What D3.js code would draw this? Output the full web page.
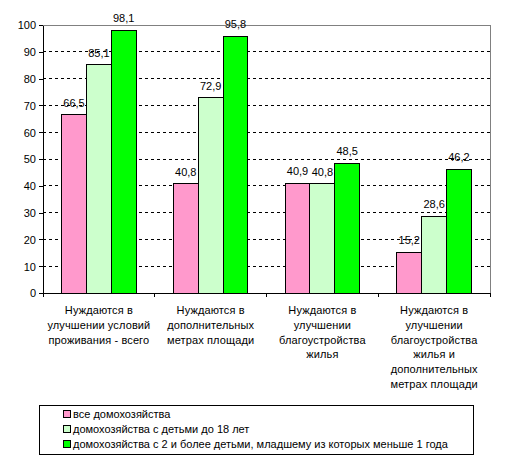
<!DOCTYPE html>
<meta charset="utf-8">
<style>
    body { margin: 0; background: #fff; }
    svg text { font-family: "Liberation Sans", Arial, sans-serif; font-size: 11px; fill: #000; }
    .axis path, .axis line { stroke: #000; shape-rendering: crispEdges; }
    .grid line { stroke: #000; stroke-dasharray: 3,3; shape-rendering: crispEdges; }
</style>
<svg width="505" height="463"></svg>
<script src="https://d3js.org/d3.v7.min.js"></script>
<script>
    var categories = [
        ["Нуждаются в", "улучшении условий", "проживания - всего"],
        ["Нуждаются в", "дополнительных", "метрах площади"],
        ["Нуждаются в", "улучшении", "благоустройства", "жилья"],
        ["Нуждаются в", "улучшении", "благоустройства", "жилья и", "дополнительных", "метрах площади"]
    ];
    var seriesNames = [
        "все домохозяйства",
        "домохозяйства с детьми до 18 лет",
        "домохозяйства с 2 и более детьми, младшему из которых меньше 1 года"
    ];
    var allHouseholds = [66.5, 40.8, 40.9, 15.2];
    var withChildren = [85.1, 72.9, 40.8, 28.6];
    var twoOrMore = [98.1, 95.8, 48.5, 46.2];
    var yTicks = [0, 10, 20, 30, 40, 50, 60, 70, 80, 90, 100];
    var colors = ["#FF99CC", "#CCFFCC", "#00FF00"];

    var series = [allHouseholds, withChildren, twoOrMore];

    var svg = d3.select("svg"),
        margin = {top: 25, right: 15, bottom: 170, left: 43},
        width = 490 - margin.left,
        height = 293 - margin.top;

    var g = svg.append("g")
        .attr("transform", "translate(" + margin.left + "," + margin.top + ")");

    var x = d3.scaleBand().domain(d3.range(categories.length)).range([0, width]);
    var xs = d3.scaleBand().domain(d3.range(series.length))
        .range([0, x.bandwidth()]).paddingInner(0).paddingOuter(0.75);
    var y = d3.scaleLinear().domain([0, 100]).range([height, 0]);

    // grid
    g.append("g").attr("class", "grid")
        .selectAll("line")
        .data(yTicks.filter(function(d) { return d > 0 && d < 100; }))
        .enter().append("line")
        .attr("x1", 0).attr("x2", width)
        .attr("y1", function(d) { return y(d); })
        .attr("y2", function(d) { return y(d); });

    // plot border top/right
    g.append("path")
        .attr("d", "M0," + y(100) + "H" + width + "V" + y(0))
        .attr("fill", "none").attr("stroke", "#808080")
        .attr("shape-rendering", "crispEdges");

    // bars
    var groups = g.selectAll(".grp")
        .data(categories)
        .enter().append("g")
        .attr("transform", function(d, i) { return "translate(" + x(i) + ",0)"; });

    groups.selectAll("rect")
        .data(function(d, i) { return series.map(function(s, j) { return {j: j, v: s[i]}; }); })
        .enter().append("rect")
        .attr("x", function(d) { return xs(d.j); })
        .attr("width", xs.bandwidth())
        .attr("y", function(d) { return y(d.v); })
        .attr("height", function(d) { return y(0) - y(d.v); })
        .attr("fill", function(d) { return colors[d.j]; })
        .attr("stroke", "#000")
        .attr("stroke-width", 1)
        .attr("shape-rendering", "crispEdges");

    groups.selectAll(".lbl")
        .data(function(d, i) { return series.map(function(s, j) { return {j: j, v: s[i]}; }); })
        .enter().append("text")
        .attr("class", "lbl")
        .attr("text-anchor", "middle")
        .attr("x", function(d) { return xs(d.j) + xs.bandwidth() / 2; })
        .attr("y", function(d) { return y(d.v) - 8; })
        .text(function(d) { return String(d.v).replace(".", ","); });

    // y axis
    g.append("g")
        .attr("class", "axis")
        .call(d3.axisLeft(y).tickValues(yTicks).tickSize(4).tickPadding(3).tickSizeOuter(0))
        .selectAll("text").attr("dy", "0.35em");

    // x axis
    var xAxis = g.append("g")
        .attr("class", "axis")
        .attr("transform", "translate(0," + height + ")");
    xAxis.append("path").attr("d", "M0,0H" + width);
    xAxis.selectAll("line")
        .data(d3.range(categories.length + 1))
        .enter().append("line")
        .attr("x1", function(d) { return d * x.step(); })
        .attr("x2", function(d) { return d * x.step(); })
        .attr("y1", 0).attr("y2", 4);

    xAxis.selectAll(".cat")
        .data(categories)
        .enter().append("text")
        .attr("class", "cat")
        .attr("text-anchor", "middle")
        .attr("letter-spacing", "0.12px")
        .attr("transform", function(d, i) { return "translate(" + (x(i) + x.bandwidth() / 2) + ",21)"; })
        .selectAll("tspan")
        .data(function(d) { return d; })
        .enter().append("tspan")
        .attr("x", 0)
        .attr("dy", function(d, i) { return i === 0 ? 0 : 14.8; })
        .text(function(d) { return d; });

    // legend
    var legend = svg.append("g").attr("transform", "translate(39,405)");
    legend.append("rect")
        .attr("x", 0.5).attr("y", 0.5).attr("width", 434).attr("height", 49)
        .attr("fill", "#fff").attr("stroke", "#000");
    var items = legend.selectAll(".item")
        .data(seriesNames)
        .enter().append("g")
        .attr("transform", function(d, i) { return "translate(24," + (9 + i * 15) + ")"; });
    items.append("rect")
        .attr("x", 0.5).attr("y", -3.5).attr("width", 7).attr("height", 7)
        .attr("fill", function(d, i) { return colors[i]; })
        .attr("stroke", "#000");
    items.append("text")
        .attr("x", 10).attr("y", 4)
        .text(function(d) { return d; });
</script>
